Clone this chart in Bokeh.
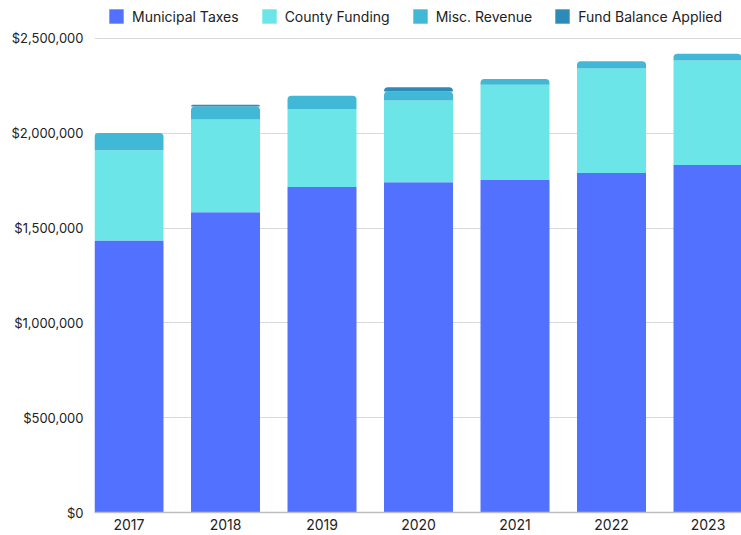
from bokeh.plotting import figure
from bokeh.models import ColumnDataSource, Range1d, FixedTicker, NumeralTickFormatter, Legend, LegendItem
from bokeh.embed import file_html
from bokeh.resources import INLINE

years = ["2017", "2018", "2019", "2020", "2021", "2022", "2023"]
municipal_taxes = [1435000, 1584000, 1716000, 1742000, 1753000, 1790000, 1832000]
county_funding = [475000, 489000, 410000, 431000, 503000, 552000, 552000]
misc_revenue = [91000, 68000, 72000, 47000, 30000, 37000, 35000]
fund_balance_applied = [0, 9000, 0, 23000, 0, 0, 0]
y_ticks = [0, 500000, 1000000, 1500000, 2000000, 2500000]

series = ["municipal", "county", "misc", "fund"]
labels = ["Municipal Taxes", "County Funding", "Misc. Revenue", "Fund Balance Applied"]
colors = ["#5271FF", "#6CE5E8", "#41B8D5", "#2D8BBA"]

src = ColumnDataSource(dict(
    x=list(range(len(years))),
    municipal=municipal_taxes,
    county=county_funding,
    misc=misc_revenue,
    fund=fund_balance_applied,
))

FONT = "Inter"
TXT = "#222222"

p = figure(width=741, height=535, output_backend="svg", toolbar_location=None,
           x_range=Range1d(-0.3575, 6.347), y_range=Range1d(0, 2700000),
           min_border_left=94, min_border_right=0, min_border_top=0, min_border_bottom=23)

renderers = p.vbar_stack(series, x="x", width=0.715, source=src, color=colors,
                         line_color=None)
for r in renderers[2:]:
    r.glyph.border_radius = (4, 4, 0, 0)

p.outline_line_color = None
p.xgrid.grid_line_color = None
p.ygrid.grid_line_color = "#D9D9D9"
p.ygrid.grid_line_width = 1.2
p.ygrid.ticker = FixedTicker(ticks=y_ticks)

p.yaxis.ticker = FixedTicker(ticks=y_ticks)
p.yaxis.formatter = NumeralTickFormatter(format="$0,0")
p.yaxis.axis_line_color = None
p.yaxis.major_tick_line_color = None
p.yaxis.minor_tick_line_color = None
p.yaxis.major_tick_out = 0
p.yaxis.major_label_standoff = 11
p.yaxis.major_label_text_font = FONT
p.yaxis.major_label_text_font_size = "13px"
p.yaxis.major_label_text_color = TXT

p.xaxis.ticker = FixedTicker(ticks=list(range(len(years))))
p.xaxis.major_label_overrides = {i: y for i, y in enumerate(years)}
p.xaxis.axis_line_color = "#BDBDBD"
p.xaxis.axis_line_width = 1.5
p.xaxis.major_tick_line_color = None
p.xaxis.minor_tick_line_color = None
p.xaxis.major_tick_out = 0
p.xaxis.major_label_standoff = 6
p.xaxis.major_label_text_font = FONT
p.xaxis.major_label_text_font_size = "14px"
p.xaxis.major_label_text_color = TXT

legend = Legend(items=[LegendItem(label=l, renderers=[r]) for l, r in zip(labels, renderers)],
                orientation="horizontal", location=(13, 487),
                glyph_width=18, glyph_height=18, label_standoff=7, spacing=21, padding=0,
                margin=0, border_line_color=None, background_fill_alpha=0,
                label_text_font=FONT, label_text_font_size="14px", label_text_color=TXT)
p.add_layout(legend)

open("out.html", "w").write(file_html(p, INLINE))
